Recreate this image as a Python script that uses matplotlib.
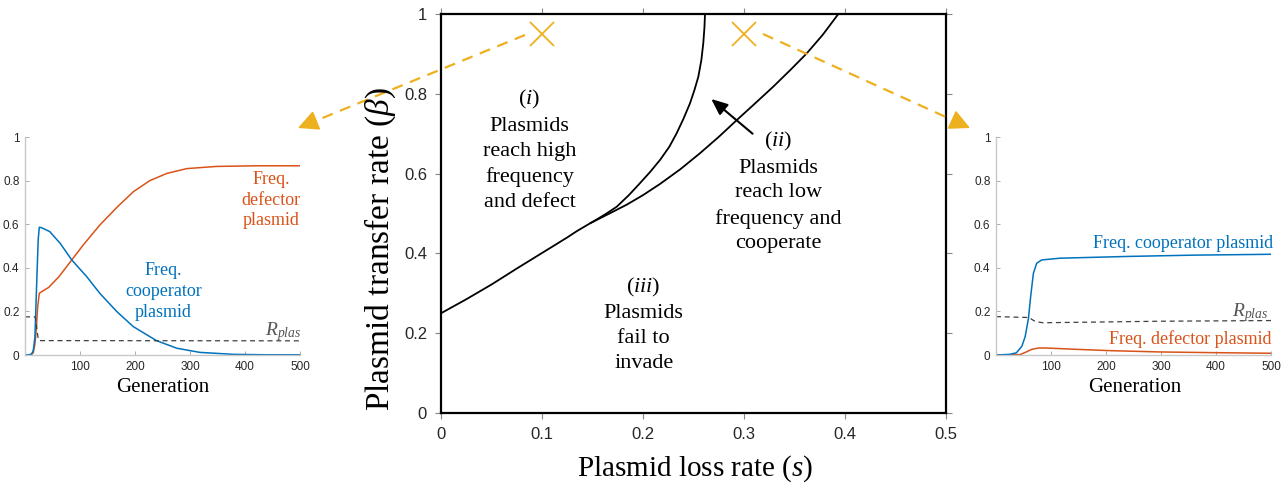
import matplotlib
matplotlib.use("Agg")
import matplotlib.pyplot as plt
from matplotlib.lines import Line2D

plt.rcParams['mathtext.fontset'] = 'custom'
plt.rcParams['mathtext.rm'] = 'Liberation Serif'
plt.rcParams['mathtext.it'] = 'Liberation Serif:italic'
plt.rcParams['font.family'] = ['Liberation Sans', 'DejaVu Sans']

SERIF = ['Liberation Serif', 'DejaVu Serif']
BLUE = '#0072BD'
RED = '#D95319'
GOLD = '#EDB120'
GRAY = '#404040'
TICKC = '#262626'

# ---------------- data ----------------
# main phase diagram boundaries
lower_s = [0, 0.025, 0.05, 0.075, 0.1, 0.125, 0.1343, 0.148, 0.1574, 0.166, 0.1838, 0.2,
           0.2168, 0.237, 0.2564, 0.275, 0.2928, 0.311, 0.329, 0.346, 0.362, 0.378, 0.3934]
lower_b = [0.25, 0.285, 0.322, 0.362, 0.401, 0.440, 0.4555, 0.476, 0.488, 0.499, 0.522, 0.546,
           0.574, 0.611, 0.651, 0.692, 0.734, 0.776, 0.818, 0.86, 0.901, 0.948, 1.0]
upper_s = [0.148, 0.1508, 0.162, 0.174, 0.186, 0.197, 0.207, 0.2168, 0.226, 0.2333, 0.240,
           0.2465, 0.251, 0.2548, 0.2578, 0.2597, 0.2608, 0.2614]
upper_b = [0.476, 0.480, 0.497, 0.517, 0.546, 0.576, 0.604, 0.634, 0.667, 0.701, 0.737,
           0.776, 0.81, 0.843, 0.885, 0.927, 0.965, 1.0]
cross_s = [0.1, 0.3]
cross_b = [0.95, 0.95]

# left inset (s = 0.1)
L_coop_g = [0, 8, 12, 15, 18, 21, 24, 26, 30, 45, 64, 85, 112, 136, 167, 197, 239, 276, 318, 379, 440, 500]
L_coop_f = [0, 0.001, 0.005, 0.02, 0.08, 0.31, 0.53, 0.586, 0.584, 0.566, 0.512, 0.436, 0.36,
            0.283, 0.199, 0.13, 0.066, 0.031, 0.012, 0.003, 0.001, 0.001]
L_def_g = [0, 8, 12, 15, 18, 20, 23, 26, 30, 43, 62, 85, 106, 136, 167, 197, 227, 258, 294, 348, 420, 500]
L_def_f = [0, 0.001, 0.003, 0.01, 0.05, 0.1, 0.22, 0.283, 0.29, 0.31, 0.36, 0.436, 0.505,
           0.596, 0.677, 0.749, 0.80, 0.833, 0.855, 0.865, 0.868, 0.868]
L_r_g = [0, 18, 20, 22, 24, 26, 500]
L_r_f = [0.175, 0.175, 0.16, 0.11, 0.075, 0.066, 0.065]

# right inset (s = 0.3)
R_coop_g = [0, 25, 37, 47, 53, 59, 63, 68, 74, 83, 116, 237, 358, 500]
R_coop_f = [0, 0.003, 0.01, 0.04, 0.084, 0.168, 0.268, 0.375, 0.421, 0.436, 0.444, 0.452, 0.458, 0.462]
R_def_g = [0, 44, 56, 65, 77, 92, 146, 207, 297, 388, 500]
R_def_f = [0, 0.002, 0.015, 0.026, 0.032, 0.032, 0.026, 0.02, 0.014, 0.011, 0.008]
R_r_g = [0, 60, 66, 72, 85, 150, 300, 500]
R_r_f = [0.176, 0.172, 0.162, 0.153, 0.148, 0.15, 0.155, 0.158]

main_xticks = [0, 0.1, 0.2, 0.3, 0.4, 0.5]
main_yticks = [0, 0.2, 0.4, 0.6, 0.8, 1]
inset_xticks = [100, 200, 300, 400, 500]
inset_yticks = [0, 0.2, 0.4, 0.6, 0.8, 1]

W, H = 1283, 490
fig = plt.figure(figsize=(W / 100, H / 100), dpi=100)


def frac(x0, y0, x1, y1):
    return [x0 / W, 1 - y1 / H, (x1 - x0) / W, (y1 - y0) / H]


# ---------------- main axes ----------------
ax = fig.add_axes(frac(441, 14, 946, 413))
ax.plot(lower_s, lower_b, color='black', lw=1.3)
ax.plot(upper_s, upper_b, color='black', lw=1.3)
ax.plot(cross_s, cross_b, linestyle='none', marker='x', markersize=17,
        markeredgewidth=1.3, color=GOLD)
ax.set_xlim(0, 0.5)
ax.set_ylim(0, 1)
ax.set_xticks(main_xticks)
ax.set_xticklabels(['0', '0.1', '0.2', '0.3', '0.4', '0.5'])
ax.set_yticks(main_yticks)
ax.set_yticklabels(['0', '0.2', '0.4', '0.6', '0.8', '1'])
ax.tick_params(direction='out', length=4, width=0.8, color='#888888', labelsize=12,
               labelcolor=TICKC, top=True, right=True, pad=6)
for sp in ax.spines.values():
    sp.set_linewidth(1.6)
    sp.set_color('black')

txt_kw = dict(ha='center', va='center', fontsize=16, family=SERIF, linespacing=1.42)
ax.text(0.0876, 0.66, "($\\mathit{i}$)\nPlasmids\nreach high\nfrequency\nand defect", **txt_kw)
ax.text(0.334, 0.555, "($\\mathit{ii}$)\nPlasmids\nreach low\nfrequency and\ncooperate", **txt_kw)
ax.text(0.2007, 0.222, "($\\mathit{iii}$)\nPlasmids\nfail to\ninvade", **txt_kw)
ax.annotate('', xy=(0.2676, 0.787), xytext=(0.3085, 0.700),
            arrowprops=dict(arrowstyle='-|>,head_length=0.7,head_width=0.3', color='black',
                            lw=1.5, mutation_scale=14, shrinkA=0, shrinkB=0))

fig.text(695 / W, 1 - 469 / H, "Plasmid loss rate ($\\mathit{s}$)", ha='center', va='center',
         fontsize=21, family=SERIF)
fig.text(380 / W, 1 - 249 / H, "Plasmid transfer rate ($\\mathit{\\beta}$)", ha='center',
         va='center', rotation=90, fontsize=24, family=SERIF)


# ---------------- insets ----------------
def style_inset(a):
    a.set_xlim(0, 500)
    a.set_ylim(0, 1)
    a.set_xticks(inset_xticks)
    a.set_yticks(inset_yticks)
    a.set_yticklabels(['0', '0.2', '0.4', '0.6', '0.8', '1'])
    a.spines['top'].set_visible(False)
    a.spines['right'].set_visible(False)
    for k in ('left', 'bottom'):
        a.spines[k].set_color('#c8c8c8')
        a.spines[k].set_linewidth(1.0)
    a.tick_params(direction='in', length=3, width=0.6, color='#a0a0a0', labelsize=8.5,
                  labelcolor=TICKC, pad=4)


axL = fig.add_axes(frac(25, 137, 300, 355))
axL.plot(L_def_g, L_def_f, color=RED, lw=1.1)
axL.plot(L_coop_g, L_coop_f, color=BLUE, lw=1.1)
axL.plot(L_r_g, L_r_f, color=GRAY, lw=0.9, dashes=(4, 3))
style_inset(axL)
axL.text(447, 0.711, "Freq.\ndefector\nplasmid", color=RED, ha='center', va='center',
         fontsize=13, family=SERIF, linespacing=1.3)
axL.text(252, 0.29, "Freq.\ncooperator\nplasmid", color=BLUE, ha='center', va='center',
         fontsize=13, family=SERIF, linespacing=1.3)
axL.text(503, 0.107, "$R_{plas}$", color='#555555', ha='right', va='center', fontsize=14)

axR = fig.add_axes(frac(996, 137, 1271, 355))
axR.plot(R_def_g, R_def_f, color=RED, lw=1.1)
axR.plot(R_coop_g, R_coop_f, color=BLUE, lw=1.1)
axR.plot(R_r_g, R_r_f, color=GRAY, lw=0.9, dashes=(4, 3))
style_inset(axR)
axR.text(503, 0.512, "Freq. cooperator plasmid", color=BLUE, ha='right', va='center',
         fontsize=13, family=SERIF)
axR.text(496, 0.194, "$R_{plas}$", color='#555555', ha='right', va='center', fontsize=14)
axR.text(501, 0.073, "Freq. defector plasmid", color=RED, ha='right', va='center',
         fontsize=13, family=SERIF)

fig.text(163 / W, 1 - 387 / H, "Generation", ha='center', va='center', fontsize=15, family=SERIF)
fig.text(1135 / W, 1 - 387 / H, "Generation", ha='center', va='center', fontsize=15, family=SERIF)


# ---------------- dashed gold arrows (figure coordinates) ----------------
def gold_arrow(p0, p1):
    x0, y0 = p0[0] / W, 1 - p0[1] / H
    x1, y1 = p1[0] / W, 1 - p1[1] / H
    t = 0.93
    xm, ym = x0 + (x1 - x0) * t, y0 + (y1 - y0) * t
    fig.add_artist(Line2D([x0, xm], [y0, ym], transform=fig.transFigure, color=GOLD,
                          lw=1.6, dashes=(5, 3.5)))
    fig.add_artist(matplotlib.patches.FancyArrowPatch(
        (xm, ym), (x1, y1), transform=fig.transFigure,
        arrowstyle='-|>,head_length=0.9,head_width=0.45', mutation_scale=14,
        color=GOLD, lw=1.2, shrinkA=0, shrinkB=0))


gold_arrow((525, 35), (298, 128))
gold_arrow((763, 34), (970, 128))

fig.savefig('out.png', dpi=100)
